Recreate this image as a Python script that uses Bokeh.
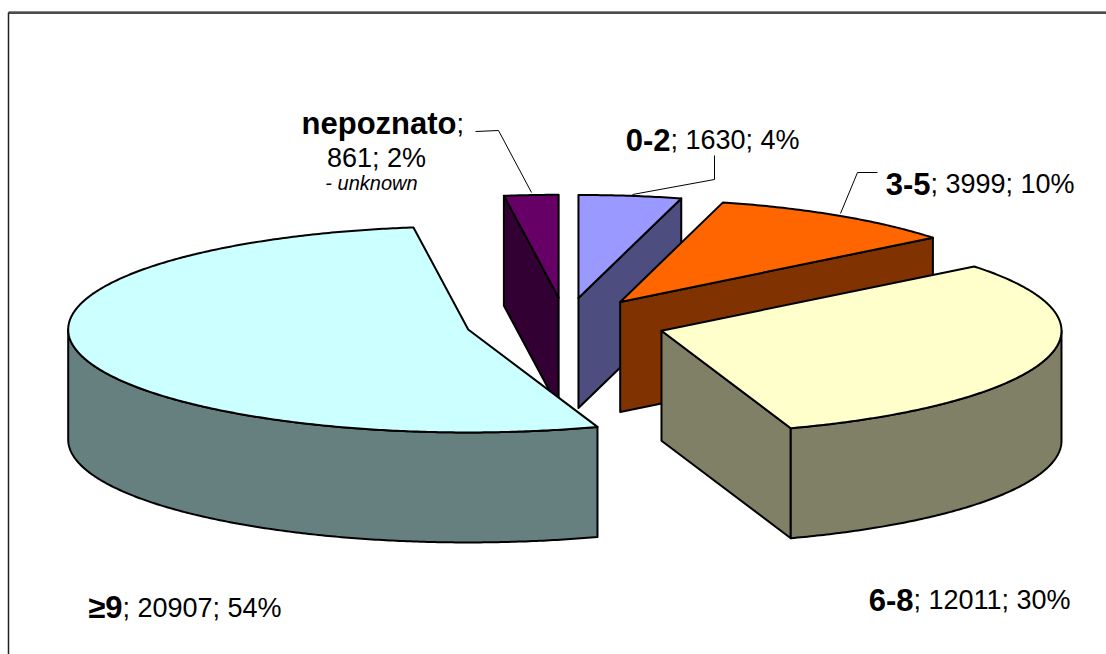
import numpy as np
from bokeh.plotting import figure
from bokeh.models import Range1d
from bokeh.embed import file_html
from bokeh.resources import INLINE
from bokeh.core.properties import value

# ---- data ----
categories = ["0-2", "3-5", "6-8", "≥9", "nepoznato"]
counts = [1630, 3999, 12011, 20907, 861]
pct_labels = ["4%", "10%", "30%", "54%", "2%"]
top_colors = ["#9999FF", "#FF6600", "#FFFFCC", "#CCFFFF", "#660066"]
side_colors = ["#4D4D80", "#803300", "#808066", "#668080", "#330033"]

# ---- layout ----
W, H = 1106, 654
X0, Y0 = 0, 0
CX, CY, RX, RY, DEPTH, EXPLODE = 565, 323, 400, 103, 110, 0.25
FONT = value("Liberation Sans")

p = figure(width=W, height=H, x_range=Range1d(X0, X0 + W), y_range=Range1d(Y0 + H, Y0),
           output_backend="svg", toolbar_location=None, min_border=0)
p.axis.visible = False
p.grid.visible = False
p.outline_line_color = None

# chart-area frame (top and left edges visible)
p.line([8, X0 + W], [11, 11], line_color="#888888", line_width=1)
p.line([8, X0 + W], [12.5, 12.5], line_color="#111111", line_width=1.5)
p.line([8, 8], [12, Y0 + H], line_color="#222222", line_width=1.5)

total = float(sum(counts))
fr = np.array(counts, dtype=float) / total
ends = np.cumsum(fr) * 360.0
starts = ends - fr * 360.0


def ell(cx, cy, th, dz=0.0):
    r = np.radians(th)
    return cx + RX * np.sin(r), cy - RY * np.cos(r) + dz


slices = []
for i in range(len(counts)):
    a1, a2 = starts[i], ends[i]
    b = np.radians((a1 + a2) / 2)
    ox = CX + EXPLODE * RX * np.sin(b)
    oy = CY - EXPLODE * RY * np.cos(b)
    faces = []
    # radial faces
    for a, vis in ((a1, np.sin(np.radians(a1)) < -1e-6), (a2, np.sin(np.radians(a2)) > 1e-6)):
        if vis:
            ex, ey = ell(ox, oy, a)
            faces.append(([ox, ex, ex, ox], [oy, ey, ey + DEPTH, oy + DEPTH], side_colors[i]))
    # outer curved side (front half only)
    lo, hi = max(a1, 90.0), min(a2, 270.0)
    if hi > lo:
        th = np.linspace(lo, hi, max(4, int((hi - lo) * 2)))
        tx, ty = ell(ox, oy, th)
        xs = list(tx) + list(tx[::-1])
        ys = list(ty) + list((ty + DEPTH)[::-1])
        faces.append((xs, ys, side_colors[i]))
    # top face
    th = np.linspace(a1, a2, max(4, int((a2 - a1) * 2)))
    tx, ty = ell(ox, oy, th)
    faces.append(([ox] + list(tx), [oy] + list(ty), top_colors[i]))
    slices.append((-np.cos(b), faces))

for _, faces in sorted(slices, key=lambda s: s[0]):
    for xs, ys, col in faces:
        p.patch(xs, ys, fill_color=col, line_color="black", line_width=2, line_join="round")

# ---- leader lines ----
p.line([475, 498, 531], [131, 130, 192], line_color="black", line_width=1)
p.line([714, 714, 632], [155, 179, 194], line_color="black", line_width=1)
p.line([877, 857, 840], [172, 172, 213], line_color="black", line_width=1)

# ---- labels ----
# (split x, baseline y) where bold category ends and regular text begins
label_pos = {0: (670, 139), 1: (930, 183), 2: (913, 599), 3: (122, 607)}
for i, (sx, by) in label_pos.items():
    p.text([sx], [by], text=[categories[i]], text_font=FONT, text_font_style="bold",
           text_font_size="31px", text_align="right", text_baseline="alphabetic", text_color="black")
    p.text([sx], [by], text=["; %d; %s" % (counts[i], pct_labels[i])], text_font=FONT,
           text_font_size="27px", text_align="left", text_baseline="alphabetic", text_color="black")

# nepoznato (multi-line)
p.text([456], [123], text=[categories[4]], text_font=FONT, text_font_style="bold",
       text_font_size="31px", text_align="right", text_baseline="alphabetic", text_color="black")
p.text([456], [123], text=[";"], text_font=FONT, text_font_size="27px",
       text_align="left", text_baseline="alphabetic", text_color="black")
p.text([376], [157], text=["%d; %s" % (counts[4], pct_labels[4])], text_font=FONT,
       text_font_size="27px", text_align="center", text_baseline="alphabetic", text_color="black")
p.text([371], [182], text=["- unknown"], text_font=FONT, text_font_style="italic",
       text_font_size="20px", text_align="center", text_baseline="alphabetic", text_color="black")

open("out.html", "w").write(file_html(p, INLINE))
